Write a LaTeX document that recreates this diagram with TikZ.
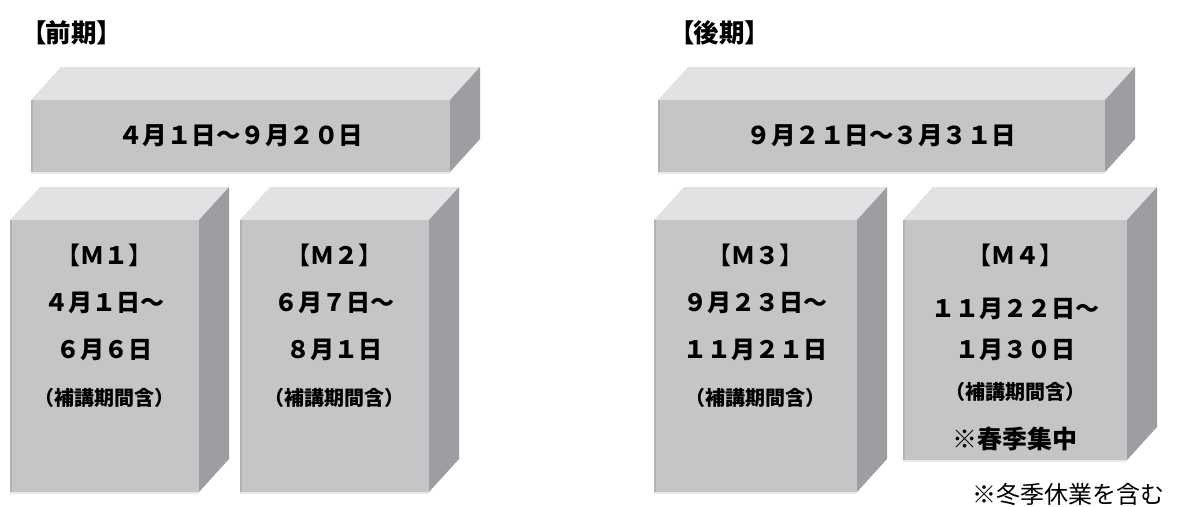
\documentclass[tikz,border=0pt]{standalone}
\usepackage{fontspec}
\newfontfamily\jpfont{Noto Sans CJK JP}
\newfontfamily\jppropfont{Noto Sans CJK JP}[RawFeature=+palt]
\usetikzlibrary{positioning}
\definecolor{frontgray}{HTML}{C4C5C7}
\definecolor{topgray}{HTML}{E1E2E4}
\definecolor{sidegray}{HTML}{9D9EA1}
\definecolor{edgegray}{HTML}{B1B2B4}
\definecolor{lightedge}{HTML}{E8E9EA}
\tikzstyle{front} = [rectangle, anchor=north west, inner sep=0pt, outer sep=0pt, fill=frontgray]
\tikzstyle{bartext} = [font=\jpfont\bfseries\fontsize{24.5}{28}\selectfont]
\tikzstyle{mtext} = [align=center, inner sep=0pt, font=\jpfont\bfseries\fontsize{24}{47}\selectfont]
\tikzstyle{termtitle} = [anchor=west, inner sep=0pt, font=\jppropfont\bfseries\fontsize{25.5}{28}\selectfont]
\tikzstyle{remark} = [anchor=east, inner sep=0pt, font=\jpfont\fontsize{24}{28}\selectfont]
\newcommand{\smallline}[1]{{\fontsize{20}{47}\selectfont #1}}
% top and right faces of a box, with the thin edges of the front
\newcommand{\cubefaces}[1]{%
  \fill[topgray] (#1.north west) -- ++(30,-33) -- ([shift={(30,-33)}]#1.north east) -- (#1.north east) -- cycle;
  \fill[sidegray] (#1.north east) -- ++(30,-33) -- ([shift={(30,-33)}]#1.south east) -- (#1.south east) -- cycle;
  \draw[edgegray, line width=1.5pt] ([xshift=0.75pt]#1.north west) -- ([xshift=0.75pt]#1.south west);
  \draw[lightedge, line width=2pt] ([yshift=-1pt]#1.south west) -- ([yshift=-1pt]#1.south east);}

\begin{document}
\begin{tikzpicture}[x=1pt, y=-1pt]
	\useasboundingbox (0,0) rectangle (1204,506);
	\node (zenki) [termtitle] at (33,33) {【前期】};
	\node (kouki) [termtitle] at (681,33) {【後期】};

	\node (zenkibar) [front, bartext, minimum width=419pt, minimum height=72pt] at (31,100) {４月１日～９月２０日};
	\node (koukibar) [front, bartext, minimum width=447pt, minimum height=72pt] at (658,100) {９月２１日～３月３１日};

	\node (m1) [front, minimum width=189pt, minimum height=272pt] at (10,220) {};
	\node (m2) [front, minimum width=189pt, minimum height=272pt] at (240,220) {};
	\node (m3) [front, minimum width=203pt, minimum height=272pt] at (654,220) {};
	\node (m4) [front, minimum width=224pt, minimum height=240pt] at (903,220) {};

	\cubefaces{zenkibar}
	\cubefaces{koukibar}
	\cubefaces{m1}
	\cubefaces{m2}
	\cubefaces{m3}
	\cubefaces{m4}

	\node (m1txt) [mtext, below=24pt of m1.north] {【Ｍ１】\\４月１日～\\６月６日\\\smallline{（補講期間含）}};
	\node (m2txt) [mtext, below=24pt of m2.north] {【Ｍ２】\\６月７日～\\８月１日\\\smallline{（補講期間含）}};
	\node (m3txt) [mtext, below=24pt of m3.north] {【Ｍ３】\\９月２３日～\\１１月２１日\\\smallline{（補講期間含）}};
	\node (m4txt) [mtext, below=24pt of m4.north] {【Ｍ４】\\[6pt]１１月２２日～\\[-6pt]１月３０日\\[-6pt]\smallline{（補講期間含）}\\[2pt]{\fontsize{25}{47}\selectfont ※春季集中}};

	\node (wintnote) [remark] at (1165,494) {※冬季休業を含む};
\end{tikzpicture}
\end{document}
